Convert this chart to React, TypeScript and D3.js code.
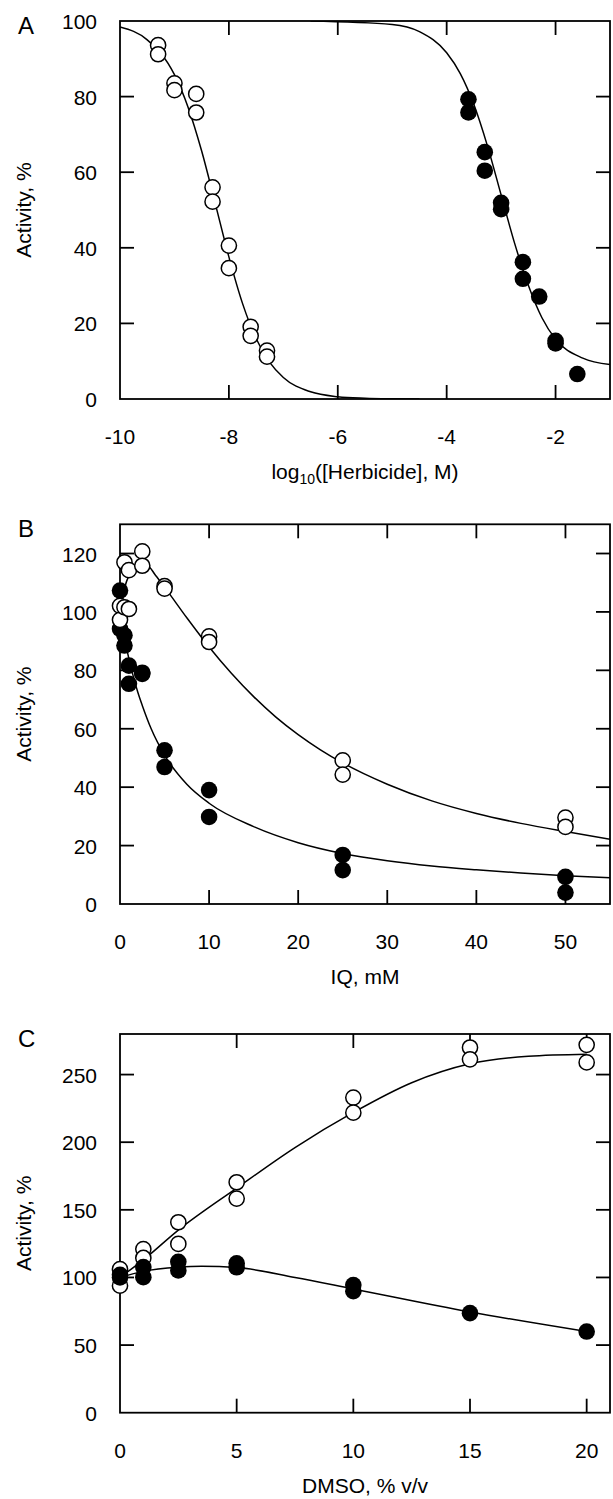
import React from 'react';
import * as d3 from 'd3';

const W = 613;
const H = 1499;
const FONT = '"Liberation Sans", Arial, Helvetica, sans-serif';
const LEFT = 120;
const RIGHT = 610;

// ---- Panel A: herbicide dose response (log10 M) ----
const aXTicks = [-10, -8, -6, -4, -2];
const aYTicks = [0, 20, 40, 60, 80, 100];
const aOpen: [number, number][] = [
  [-9.3, 93.6], [-9.3, 91.2], [-9.0, 83.5], [-9.0, 81.7], [-8.6, 80.7], [-8.6, 75.8],
  [-8.3, 56.0], [-8.3, 52.2], [-8.0, 40.6], [-8.0, 34.6], [-7.6, 19.1], [-7.6, 16.7],
  [-7.3, 12.8], [-7.3, 11.2],
];
const aFilled: [number, number][] = [
  [-3.6, 79.3], [-3.6, 75.8], [-3.3, 65.3], [-3.3, 60.4], [-3.0, 51.9], [-3.0, 50.2],
  [-2.6, 36.2], [-2.6, 31.8], [-2.3, 27.1], [-2.0, 15.4], [-2.0, 14.7], [-1.6, 6.6],
];
const aOpenCurve: [number, number][] = [
  [-10, 98.4], [-9.5, 95.0], [-9, 85.8], [-8.75, 77.2], [-8.5, 65.6], [-8.25, 51.7],
  [-8, 37.6], [-7.75, 25.3], [-7.5, 16.0], [-7.25, 9.7], [-7, 5.7], [-6.5, 1.9],
  [-6, 0.6], [-5.5, 0.2], [-5, 0.05], [-4.5, 0],
];
const aFilledCurve: [number, number][] = [
  [-6.5, 100], [-5, 99.1], [-4.5, 97.2], [-4, 91.6], [-3.75, 86.1], [-3.5, 77.9],
  [-3.25, 66.9], [-3, 54], [-2.75, 41.1], [-2.5, 30.1], [-2.25, 21.5], [-2, 15.8],
  [-1.5, 10.8], [-1, 9.1],
];

// ---- Panel B: IQ, mM ----
const bXTicks = [0, 10, 20, 30, 40, 50];
const bYTicks = [0, 20, 40, 60, 80, 100, 120];
const bOpen: [number, number][] = [
  [0, 102.1], [0, 97.3], [0.5, 117.0], [0.5, 101.6], [1, 114.3], [1, 101.0],
  [2.5, 120.7], [2.5, 115.8], [5, 108.8], [5, 108.0], [10, 91.6], [10, 89.7],
  [25, 49.2], [25, 44.3], [50, 29.6], [50, 26.4],
];
const bFilled: [number, number][] = [
  [0, 107.3], [0, 94.2], [0.5, 92.0], [0.5, 88.5], [1, 81.6], [1, 75.4],
  [2.5, 78.8], [2.5, 79.2], [5, 52.6], [5, 46.9], [10, 39.0], [10, 29.8],
  [25, 16.8], [25, 11.6], [50, 9.3], [50, 3.9],
];
const bOpenCurve: [number, number][] = [
  [0, 100], [0.5, 108], [1, 112.5], [2, 116], [3, 116], [4, 112.5], [5, 108.5],
  [7.5, 98], [10, 88], [12.5, 79], [15, 71], [17.5, 64], [20, 58], [22.5, 52.8],
  [25, 48.3], [30, 41], [35, 35.3], [40, 31], [45, 27.6], [50, 24.8], [55, 22.2],
];
const bFilledCurve: [number, number][] = [
  [0, 100], [0.5, 91], [1, 84], [2, 72.5], [2.5, 68], [3.5, 60], [5, 51], [7.5, 41],
  [10, 34.5], [15, 26.5], [20, 21], [25, 17.3], [30, 14.8], [35, 13], [40, 11.7],
  [45, 10.6], [50, 9.7], [55, 9.0],
];

// ---- Panel C: DMSO, % v/v ----
const cXTicks = [0, 5, 10, 15, 20];
const cYTicks = [0, 50, 100, 150, 200, 250];
const cOpen: [number, number][] = [
  [0, 106.2], [0, 93.9], [1, 121.0], [1, 114.4], [2.5, 140.8], [2.5, 124.8],
  [5, 170.4], [5, 158.3], [10, 233.0], [10, 221.8], [15, 270.0], [15, 261.3],
  [20, 272.0], [20, 259.0],
];
const cFilled: [number, number][] = [
  [0, 100.0], [0, 102.0], [1, 107.7], [1, 100.2], [2.5, 111.6], [2.5, 105.2],
  [5, 110.5], [5, 107.5], [10, 94.4], [10, 89.8], [15, 73.6], [20, 60.0],
];
const cOpenCurve: [number, number][] = [
  [0, 100], [1, 113], [2.5, 135], [5, 166], [7.5, 196], [10, 222], [12.5, 244],
  [15, 258], [17.5, 263.5], [20, 265],
];
const cFilledCurve: [number, number][] = [
  [0, 100], [1, 104.5], [2.5, 107.5], [3.5, 108.2], [5, 107.3], [7.5, 100],
  [10, 91.5], [15, 74.5], [20, 60],
];

type Pt = [number, number];

interface PanelProps {
  id: string;
  letter: string;
  top: number;
  bottom: number;
  xDomain: [number, number];
  yDomain: [number, number];
  xTicks: number[];
  yTicks: number[];
  xTitle: React.ReactNode;
  open: Pt[];
  filled: Pt[];
  curves: Pt[][];
  filledOnTop: boolean;
}

function Panel(p: PanelProps) {
  const x = d3.scaleLinear().domain(p.xDomain).range([LEFT, RIGHT]);
  const y = d3.scaleLinear().domain(p.yDomain).range([p.bottom, p.top]);
  const line = d3.line<Pt>().x(d => x(d[0])).y(d => y(d[1])).curve(d3.curveMonotoneX);
  const tickLen = 14;
  const innerX = p.xTicks.filter(v => v > p.xDomain[0] && v < p.xDomain[1]);
  const innerY = p.yTicks.filter(v => v > p.yDomain[0] && v < p.yDomain[1]);

  const openMarks = p.open.map((d, i) => (
    <circle key={'o' + i} cx={x(d[0])} cy={y(d[1])} r={7.6} fill="#fff" stroke="#000" strokeWidth={1.5} />
  ));
  const filledMarks = p.filled.map((d, i) => (
    <circle key={'f' + i} cx={x(d[0])} cy={y(d[1])} r={8.3} fill="#000" />
  ));

  return (
    <g>
      <clipPath id={'clip-' + p.id}>
        <rect x={LEFT} y={p.top} width={RIGHT - LEFT} height={p.bottom - p.top} />
      </clipPath>
      {/* frame */}
      <rect x={LEFT} y={p.top} width={RIGHT - LEFT} height={p.bottom - p.top} fill="none" stroke="#000" strokeWidth={1.8} />
      {/* inward ticks */}
      {innerX.map(v => (
        <g key={'xt' + v}>
          <line x1={x(v)} x2={x(v)} y1={p.bottom} y2={p.bottom - tickLen} stroke="#000" strokeWidth={1.8} />
          <line x1={x(v)} x2={x(v)} y1={p.top} y2={p.top + tickLen} stroke="#000" strokeWidth={1.8} />
        </g>
      ))}
      {innerY.map(v => (
        <g key={'yt' + v}>
          <line x1={LEFT} x2={LEFT + tickLen} y1={y(v)} y2={y(v)} stroke="#000" strokeWidth={1.8} />
          <line x1={RIGHT} x2={RIGHT - tickLen} y1={y(v)} y2={y(v)} stroke="#000" strokeWidth={1.8} />
        </g>
      ))}
      {/* tick labels */}
      {p.xTicks.map(v => (
        <text key={'xl' + v} x={x(v)} y={p.bottom + 45} textAnchor="middle" fontSize={21}>{v}</text>
      ))}
      {p.yTicks.map(v => (
        <text key={'yl' + v} x={LEFT - 23} y={y(v) + 8} textAnchor="end" fontSize={21}>{v}</text>
      ))}
      {/* titles */}
      <text x={(LEFT + RIGHT) / 2} y={p.bottom + 80} textAnchor="middle" fontSize={21}>{p.xTitle}</text>
      <text transform={`translate(31,${(p.top + p.bottom) / 2}) rotate(-90)`} textAnchor="middle" fontSize={21}>Activity, %</text>
      <text x={18} y={p.top + 13} fontSize={24}>{p.letter}</text>
      {/* fitted curves */}
      <g clipPath={`url(#clip-${p.id})`}>
        {p.curves.map((c, i) => (
          <path key={'c' + i} d={line(c) || ''} fill="none" stroke="#000" strokeWidth={1.5} />
        ))}
      </g>
      {p.filledOnTop ? [openMarks, filledMarks] : [filledMarks, openMarks]}
    </g>
  );
}

export default function App() {
  return (
    <svg width={W} height={H} style={{ position: 'absolute', left: 0, top: 0, background: '#fff' }} fontFamily={FONT}>
      <Panel
        id="a" letter="A" top={21} bottom={399}
        xDomain={[-10, -1]} yDomain={[0, 100]} xTicks={aXTicks} yTicks={aYTicks}
        xTitle={<>log<tspan fontSize={14} dy={5}>10</tspan><tspan dy={-5}>([Herbicide], M)</tspan></>}
        open={aOpen} filled={aFilled} curves={[aOpenCurve, aFilledCurve]} filledOnTop={true}
      />
      <Panel
        id="b" letter="B" top={524.3} bottom={904}
        xDomain={[0, 55]} yDomain={[0, 130]} xTicks={bXTicks} yTicks={bYTicks}
        xTitle="IQ, mM"
        open={bOpen} filled={bFilled} curves={[bOpenCurve, bFilledCurve]} filledOnTop={false}
      />
      <Panel
        id="c" letter="C" top={1034} bottom={1412.7}
        xDomain={[0, 21]} yDomain={[0, 280]} xTicks={cXTicks} yTicks={cYTicks}
        xTitle="DMSO, % v/v"
        open={cOpen} filled={cFilled} curves={[cOpenCurve, cFilledCurve]} filledOnTop={true}
      />
    </svg>
  );
}
